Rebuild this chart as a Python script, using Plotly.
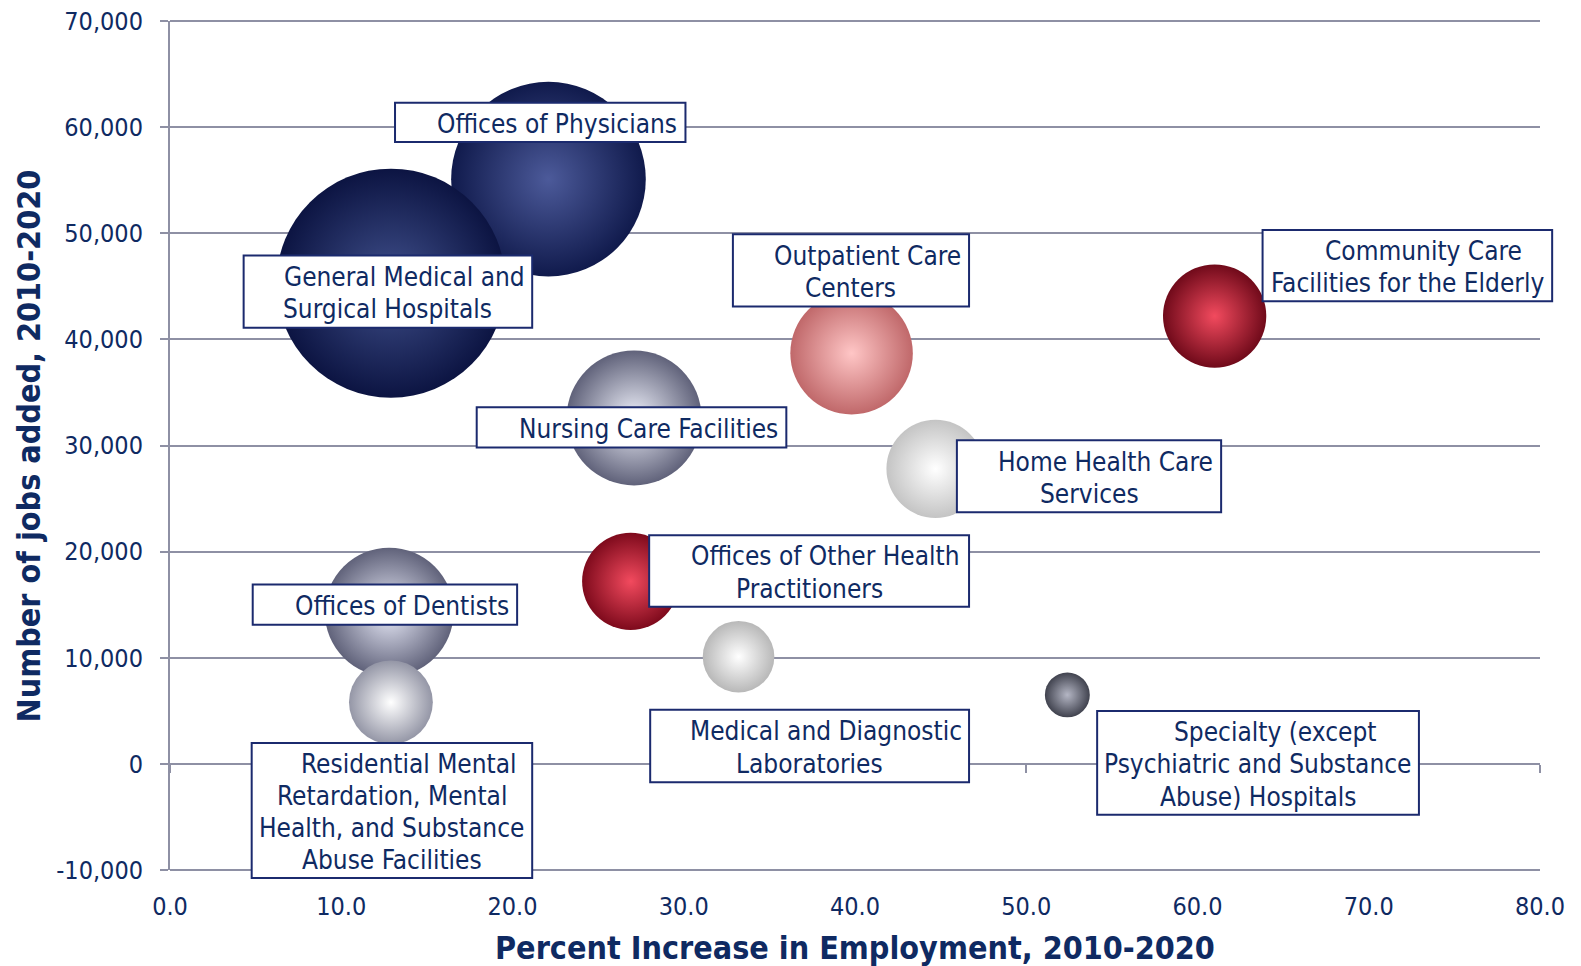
import plotly.graph_objects as go

# ---- data ----
categories = [
    "Offices of Physicians",
    "General Medical and Surgical Hospitals",
    "Outpatient Care Centers",
    "Community Care Facilities for the Elderly",
    "Nursing Care Facilities",
    "Home Health Care Services",
    "Offices of Other Health Practitioners",
    "Offices of Dentists",
    "Medical and Diagnostic Laboratories",
    "Residential Mental Retardation, Mental Health, and Substance Abuse Facilities",
    "Specialty (except Psychiatric and Substance Abuse) Hospitals",
]
pct_increase = [22.1, 12.9, 39.8, 61.0, 27.1, 44.7, 26.9, 12.8, 33.2, 12.9, 52.4]
jobs_added = [55100, 45300, 38700, 42200, 32600, 27800, 17200, 14300, 10100, 5800, 6500]
bubble_size = [255000, 353000, 101000, 71800, 122600, 64800, 63500, 111700, 34500, 47300, 13600]

x_tick_vals = [0, 10, 20, 30, 40, 50, 60, 70, 80]
x_tick_text = ["0.0", "10.0", "20.0", "30.0", "40.0", "50.0", "60.0", "70.0", "80.0"]
y_tick_vals = [-10000, 0, 10000, 20000, 30000, 40000, 50000, 60000, 70000]
y_tick_text = ["-10,000", "0", "10,000", "20,000", "30,000", "40,000", "50,000", "60,000", "70,000"]

label_lines = [
    ["Offices of Physicians"],
    ["General Medical and", "Surgical Hospitals"],
    ["Outpatient Care", "Centers"],
    ["Community Care", "Facilities for the Elderly"],
    ["Nursing Care Facilities"],
    ["Home Health Care", "Services"],
    ["Offices of Other Health", "Practitioners"],
    ["Offices of Dentists"],
    ["Medical and Diagnostic", "Laboratories"],
    ["Residential Mental", "Retardation, Mental", "Health, and Substance", "Abuse Facilities"],
    ["Specialty (except", "Psychiatric and Substance", "Abuse) Hospitals"],
]
# label boxes in data units: (x0, x1, y_bottom, y_top)
label_boxes = [
    (13.14, 30.10, 58600, 62300),
    (4.30, 21.15, 41100, 47900),
    (32.87, 46.66, 43100, 49900),
    (63.80, 80.71, 43600, 50300),
    (17.91, 35.99, 29800, 33600),
    (45.95, 61.38, 23700, 30500),
    (27.98, 46.66, 14800, 21550),
    (4.83, 20.27, 13100, 16900),
    (28.04, 46.66, -1730, 5100),
    (4.77, 21.15, -10760, 1970),
    (54.14, 72.93, -4800, 4990),
]

# sphere colours: edge colour and highlight (centre) colour
edge_colors = ["#101a4c", "#0c1442", "#c0686a", "#700a1a", "#60627a", "#c4c4c4",
               "#7e0a1c", "#60627a", "#b8b8b8", "#9496a6", "#40424e"]
center_colors = ["#4c5a9a", "#40508c", "#ffc6c6", "#f24a5e", "#eef0fa", "#ffffff",
                 "#f24a5e", "#e8eaf8", "#ffffff", "#ffffff", "#b4b6c4"]

X_RANGE = [0, 80]
Y_RANGE = [-10000, 70000]
NAVY = "#0f2a62"
BOX = "#1b2a6e"
GRID = "#8e90a4"
FONT = "DejaVu Sans Condensed, Liberation Sans Narrow, DejaVu Sans, sans-serif"
FONT_B = "DejaVu Sans Condensed, DejaVu Sans, sans-serif"
LINE_STEP = 32.3      # px between label lines
FIRST_SHIFT = 16.6    # first line of each label sits a little to the right

max_diam = 229
fig = go.Figure()
fig.add_trace(go.Scatter(
    x=pct_increase, y=jobs_added, mode="markers",
    text=categories, hoverinfo="text",
    marker=dict(
        size=bubble_size, sizemode="area",
        sizeref=2 * max(bubble_size) / max_diam ** 2,
        color=edge_colors,
        gradient=dict(type="radial", color=center_colors),
        line=dict(width=0), opacity=1,
    ),
    showlegend=False, cliponaxis=False,
))


def px_(v):
    return (v - X_RANGE[0]) / (X_RANGE[1] - X_RANGE[0])


def py_(v):
    return (v - Y_RANGE[0]) / (Y_RANGE[1] - Y_RANGE[0])


shapes = [
    dict(type="line", xref="paper", yref="paper", x0=0, x1=1, y0=1, y1=1,
         line=dict(color=GRID, width=2), layer="below"),
    dict(type="line", xref="paper", yref="paper", x0=0, x1=1, y0=0, y1=0,
         line=dict(color=GRID, width=2), layer="below"),
]
annotations = []
for lines, (x0, x1, yb, yt) in zip(label_lines, label_boxes):
    shapes.append(dict(type="rect", xref="paper", yref="paper",
                       x0=px_(x0), x1=px_(x1), y0=py_(yb), y1=py_(yt),
                       line=dict(color=BOX, width=2), fillcolor="white", layer="above"))
    n = len(lines)
    for k, line in enumerate(lines):
        annotations.append(dict(
            xref="paper", yref="paper", x=px_((x0 + x1) / 2), y=py_((yb + yt) / 2),
            xanchor="center", yanchor="middle",
            xshift=FIRST_SHIFT if k == 0 else 0,
            yshift=-(k - (n - 1) / 2) * LINE_STEP - 1.5,
            text=line, showarrow=False,
            font=dict(family=FONT, size=26, color=NAVY)))

annotations.append(dict(xref="paper", yref="paper", x=0.5, y=-0.092, xanchor="center",
                        yanchor="middle", showarrow=False,
                        text="<b>Percent Increase in Employment, 2010-2020</b>",
                        font=dict(family=FONT_B, size=32, color=NAVY)))
annotations.append(dict(xref="paper", yref="paper", x=-0.103, y=0.5, xanchor="center",
                        yanchor="middle", showarrow=False, textangle=-90,
                        text="<b>Number of jobs added, 2010-2020</b>",
                        font=dict(family=FONT_B, size=32, color=NAVY)))

# the page body has an 8px margin, so the figure is made 16px smaller
fig.update_layout(
    width=1573, height=958,
    margin=dict(l=162, r=41, t=13, b=96, autoexpand=False),
    paper_bgcolor="white", plot_bgcolor="white",
    shapes=shapes, annotations=annotations,
    xaxis=dict(range=X_RANGE, tickvals=x_tick_vals, ticktext=x_tick_text, showgrid=False,
               zeroline=False, showline=False, ticks="", ticklabelstandoff=19,
               ticklabeloverflow="allow", automargin=False,
               tickfont=dict(family=FONT, size=25, color=NAVY)),
    xaxis2=dict(overlaying="x", matches="x", anchor="free", position=py_(0),
                showline=True, linecolor=GRID, linewidth=2, ticks="outside", ticklen=8,
                tickwidth=2, tickcolor=GRID, showticklabels=False, showgrid=False,
                zeroline=False, tickvals=x_tick_vals, automargin=False),
    yaxis=dict(range=Y_RANGE, tickvals=y_tick_vals, ticktext=y_tick_text, showgrid=True,
               gridcolor=GRID, gridwidth=2, zeroline=False, showline=True,
               linecolor=GRID, linewidth=2, ticks="outside", ticklen=8, tickwidth=2,
               tickcolor=GRID, ticklabelstandoff=12, ticklabeloverflow="allow",
               automargin=False,
               tickfont=dict(family=FONT, size=25, color=NAVY)),
)
fig.add_trace(go.Scatter(x=[None], y=[None], xaxis="x2", showlegend=False, hoverinfo="skip"))

fig.write_html("out.html")
